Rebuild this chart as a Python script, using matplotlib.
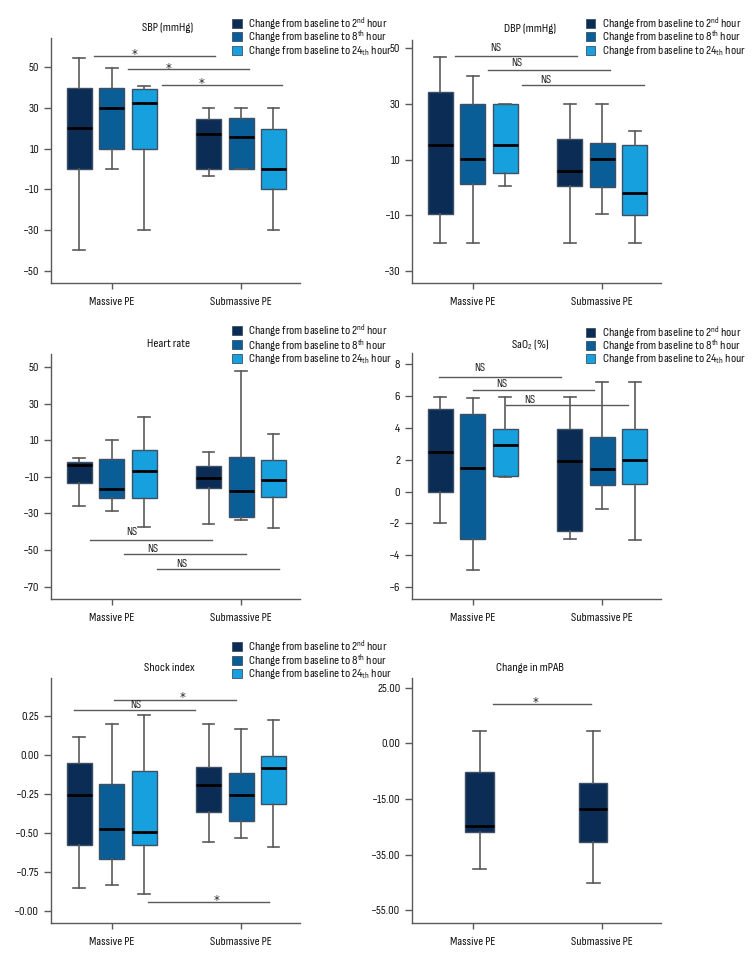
import matplotlib
matplotlib.use("Agg")
import matplotlib.pyplot as plt
from matplotlib import font_manager
from matplotlib.patches import Rectangle

names = {f.name for f in font_manager.fontManager.ttflist}
FONT = "Liberation Sans"
for cand in ["Sofia Sans Condensed", "Barlow Condensed", "PT Sans Narrow", "Liberation Sans Narrow"]:
    if cand in names:
        FONT = cand
        break
plt.rcParams["font.family"] = [FONT, "DejaVu Sans"]
plt.rcParams["mathtext.fontset"] = "custom"
plt.rcParams["mathtext.rm"] = FONT
plt.rcParams["mathtext.it"] = FONT
plt.rcParams["axes.unicode_minus"] = True

# ---------------- data ----------------
groups = ["Massive PE", "Submassive PE"]
series = [r"Change from baseline to 2$^{\mathrm{nd}}$ hour",
          r"Change from baseline to 8$^{\mathrm{th}}$ hour",
          r"Change from baseline to 24$_{\mathrm{th}}$ hour"]

# each box: (whislo, q1, med, q3, whishi); order: Massive 2h, 8h, 24h, Submassive 2h, 8h, 24h
sbp = [(-40, 0, 20.3, 39.7, 54.5), (0, 10, 29.8, 39.7, 49.5), (-30, 10, 32.6, 39.3, 40.8),
       (-3.3, 0.2, 17.2, 24.6, 30), (0, 0, 15.9, 25.2, 30), (-30, -10, 0, 19.8, 30)]
dbp = [(-20, -9.5, 15.4, 34.2, 46.9), (-20, 1.3, 10.2, 30, 40.2), (0.4, 5.1, 15.4, 30, 30),
       (-20, 0.4, 5.7, 17.3, 30), (-9.5, 0.1, 10.1, 15.9, 30), (-20, -9.8, -2.2, 15.3, 20.4)]
hr = [(-26, -13.6, -3.5, -2, 0.5), (-28.5, -21.8, -16.5, -0.4, 10), (-37.5, -21.5, -6.9, 4.4, 22.9),
      (-35.8, -16.2, -10.4, -4, 3.3), (-33.5, -32, -18, 0.7, 47.8), (-38, -21.3, -11.6, -0.9, 13.3)]
sao2 = [(-2.0, 0, 2.47, 5.2, 5.95), (-4.94, -3.0, 1.45, 4.9, 5.86), (0.94, 1.0, 2.93, 3.94, 5.95),
        (-3.0, -2.5, 1.95, 3.92, 5.93), (-1.07, 0.4, 1.42, 3.43, 6.89), (-3.04, 0.5, 1.99, 3.94, 6.91)]
shock = [(-0.85, -0.573, -0.254, -0.049, 0.12), (-0.833, -0.665, -0.476, -0.182, 0.2),
         (-0.893, -0.577, -0.494, -0.10, 0.259), (-0.556, -0.365, -0.194, -0.075, 0.199),
         (-0.53, -0.425, -0.254, -0.113, 0.169), (-0.592, -0.314, -0.081, -0.006, 0.226)]
mpab = [(-40.1, -27.0, -24.9, -5.4, 9.55), (-45.1, -30.6, -18.6, -9.1, 9.55)]

sbp_ticks = [50, 30, 10, -10, -30, -50]
dbp_ticks = [50, 30, 10, -10, -30]
hr_ticks = [50, 30, 10, -10, -30, -50, -70]
sao2_ticks = [8, 6, 4, 2, 0, -2, -4, -6]
shock_ticks = [0.25, 0.0, -0.25, -0.5, -0.75, -1.0]
shock_ticklabels = ["0.25", "0.00", "\u22120.25", "\u22120.50", "\u22120.75", "\u22120.00"]
mpab_ticks = [25, 5, -15, -35, -55]
mpab_ticklabels = ["25.00", "0.00", "\u221215.00", "\u221235.00", "\u221255.00"]

# significance brackets: (x_start, x_end, y, label, label_x, label centre height above line in px)
sbp_sig = [(-0.135, 0.799, 55.6, "*", 0.18, 4.5), (0.128, 1.062, 49.0, "*", 0.443, 4.5),
           (0.386, 1.32, 41.3, "*", 0.696, 4.5)]
dbp_sig = [(-0.137, 0.804, 47.1, "NS", 0.176, 9.5), (0.121, 1.062, 42.3, "NS", 0.343, 7.5),
           (0.379, 1.32, 36.8, "NS", 0.562, 6.0)]
hr_sig = [(-0.168, 0.773, -44.4, "NS", 0.155, 9.0), (0.096, 1.036, -52.0, "NS", 0.319, 6.0),
          (0.353, 1.294, -60.2, "NS", 0.538, 6.3)]
sao2_sig = [(-0.26, 0.68, 7.22, "NS", 0.057, 9.7), (-0.002, 0.936, 6.37, "NS", 0.222, 7.7),
            (0.255, 1.196, 5.42, "NS", 0.441, 6.3)]
shock_sig = [(-0.292, 0.644, 0.293, "NS", 0.188, 6.0), (0.02, 0.959, 0.357, "*", 0.546, 5.3),
             (0.283, 1.219, -0.944, "*", 0.812, 5.3)]
mpab_sig = [(0.155, 0.915, 19.0, "*", 0.485, 5.0)]

colors = ["#0b2c55", "#0a5e98", "#16a1de"]
edge = "#3d4f63"
gray = "#5a5a5a"
txtc = "#111111"

W, H = 756, 960
fig = plt.figure(figsize=(W / 100, H / 100), dpi=100)
fig.patch.set_facecolor("white")

TICK_FS = 8.9
LEG_FS = 9.0
TITLE_FS = 9.0
NS_FS = 8.6
STAR_FS = 8.6
PX = 0.72  # points per pixel


def make_ax(xl, xr, yt, yb):
    return fig.add_axes([xl / W, 1 - yb / H, (xr - xl) / W, (yb - yt) / H])


def style(ax, ylim, ticks, labels=None):
    ax.set_xlim(-0.47, 1.456)
    ax.set_ylim(*ylim)
    for s in ["top", "right"]:
        ax.spines[s].set_visible(False)
    for s in ["left", "bottom"]:
        ax.spines[s].set_color(gray)
        ax.spines[s].set_linewidth(1.0)
    ax.set_xticks([0, 1])
    ax.set_xticklabels(groups, fontsize=TICK_FS, color=txtc)
    ax.set_yticks(ticks)
    if labels is None:
        labels = [("\u2212" + str(abs(t))) if t < 0 else str(t) for t in ticks]
    ax.set_yticklabels(labels, fontsize=TICK_FS, color=txtc)
    ax.tick_params(axis="y", color=gray, length=5, width=1.0, pad=3.5)
    ax.tick_params(axis="x", color=gray, length=4, width=1.0, pad=6)


def draw_boxes(ax, data, positions, width, cols):
    stats = []
    for d in data:
        stats.append(dict(whislo=d[0], q1=d[1], med=d[2], q3=d[3], whishi=d[4], fliers=[]))
    bp = ax.bxp(stats, positions=positions, widths=width, patch_artist=True,
                showfliers=False, capwidths=width * 0.47,
                boxprops=dict(edgecolor=edge, linewidth=1.0),
                medianprops=dict(color="black", linewidth=2.0),
                whiskerprops=dict(color=gray, linewidth=1.2),
                capprops=dict(color=gray, linewidth=1.2))
    for patch, c in zip(bp["boxes"], cols):
        patch.set_facecolor(c)
    for m in bp["medians"]:
        m.set_zorder(5)


def draw_sig(ax, sig):
    for x0, x1, y, lab, lx, dy in sig:
        ax.plot([x0, x1], [y, y], color=gray, lw=1.0, clip_on=False)
        if lab == "*":
            ax.annotate(lab, xy=(lx, y), xytext=(0, (dy - 0.56 * STAR_FS / PX) * PX),
                        textcoords="offset points", ha="center", va="baseline",
                        fontsize=STAR_FS, family="DejaVu Sans", color="#222222",
                        annotation_clip=False)
        else:
            ax.annotate(lab, xy=(lx, y), xytext=(0, (dy - 4.2) * PX), textcoords="offset points",
                        ha="center", va="baseline", fontsize=NS_FS, color="#222222",
                        annotation_clip=False)


def legend(x0, ys):
    for y, c, lab in zip(ys, colors, series):
        fig.patches.append(Rectangle((x0 / W, 1 - (y + 4.5) / H), 9.5 / W, 9 / H,
                                     transform=fig.transFigure, facecolor=c,
                                     edgecolor=edge, linewidth=0.6))
        fig.text((x0 + 16) / W, 1 - (y + 0.5) / H, lab, fontsize=LEG_FS, va="center", ha="left",
                 color=txtc)


offs = [-0.251, 0.0, 0.251]
pos6 = [g + o for g in (0, 1) for o in offs]
cols6 = colors * 2
bw = 0.193

panels = [
    dict(rect=(51, 300, 38, 283), ylim=(-56.0, 64.4), ticks=sbp_ticks, data=sbp, sig=sbp_sig,
         title="SBP (mmHg)", tpos=(168, 28), leg=(232, [23.3, 36.7, 50.2])),
    dict(rect=(412, 661.3, 40, 282.7), ylim=(-34.3, 53.0), ticks=dbp_ticks, data=dbp, sig=dbp_sig,
         title="DBP (mmHg)", tpos=(529.7, 28.3), leg=(585.5, [23.3, 36.7, 50.7])),
    dict(rect=(51, 300, 354.3, 598.7), ylim=(-76.6, 56.9), ticks=hr_ticks, data=hr, sig=hr_sig,
         title="Heart rate", tpos=(169, 344), leg=(232, [330.7, 344.7, 358.7])),
    dict(rect=(412, 661.3, 353, 598.7), ylim=(-6.74, 8.71), ticks=sao2_ticks, data=sao2, sig=sao2_sig,
         title="SaO$_2$ (%)", tpos=(529.7, 345), leg=(585.5, [332.3, 345.3, 358.7])),
    dict(rect=(51, 300, 678.3, 922.7), ylim=(-1.075, 0.494), ticks=shock_ticks, labels=shock_ticklabels,
         data=shock, sig=shock_sig, title="Shock index", tpos=(169, 667.7), leg=(232, [646, 660, 673.7])),
]

for p in panels:
    ax = make_ax(*p["rect"])
    draw_boxes(ax, p["data"], pos6, bw, cols6)
    style(ax, p["ylim"], p["ticks"], p.get("labels"))
    draw_sig(ax, p["sig"])
    fig.text(p["tpos"][0] / W, 1 - p["tpos"][1] / H, p["title"], ha="center", va="center",
             fontsize=TITLE_FS, color=txtc)
    legend(*p["leg"])

# mPAB panel
ax = make_ax(412, 661.3, 678.3, 922.7)
draw_boxes(ax, mpab, [0.052, 0.930], 0.219, [colors[0], colors[0]])
style(ax, (-59.5, 28.4), mpab_ticks, mpab_ticklabels)
draw_sig(ax, mpab_sig)
fig.text(529.7 / W, 1 - 667.7 / H, "Change in mPAB", ha="center", va="center",
         fontsize=TITLE_FS, color=txtc)

fig.savefig("out.png", dpi=100, facecolor="white")
